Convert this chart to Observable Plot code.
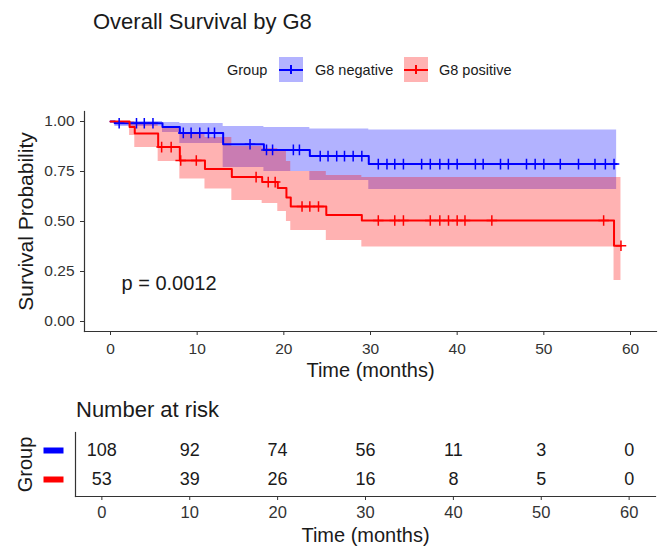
<!DOCTYPE html>
<html>
<head>
<meta charset="utf-8">
<script src="https://cdn.jsdelivr.net/npm/d3@7"></script>
<script src="https://cdn.jsdelivr.net/npm/@observablehq/plot@0.6"></script>
<style>
  body { margin: 0; background: #fff; font-family: "Liberation Sans", Arial, sans-serif; color: #1a1a1a; }
  #page { position: relative; width: 664px; height: 547px; overflow: hidden; background: #fff; }
  .abs { position: absolute; white-space: nowrap; }
  svg { position: absolute; left: 0; }
</style>
</head>
<body>
<div id="page"></div>
<script>
// ---------- data ----------
const titleText = "Overall Survival by G8";
const legendTitle = "Group";
const groups = ["G8 negative", "G8 positive"];
const groupColors = ["#0000ff", "#ff0000"];
const groupFills = ["#b3b3ff", "#ffb3b3"];

// G8 negative: Kaplan-Meier steps
const negTime  = [0, 0.5, 6.0, 8.0, 13.0, 17.7, 23.0, 29.8, 58.4];
const negSurv  = [1.0, 0.991, 0.972, 0.943, 0.886, 0.858, 0.827, 0.787, 0.787];
const negUpper = [1.0, 1.0, 0.995, 0.99, 0.975, 0.97, 0.962, 0.958, 0.958];
const negLower = [1.0, 0.975, 0.945, 0.89, 0.77, 0.75, 0.705, 0.66, 0.66];
const negCensor = [1.0, 3.0, 3.9, 4.9, 8.4, 9.3, 10.3, 11.3, 12.0, 16.1, 18.0, 18.7, 21.1, 21.8,
  24.2, 25.1, 26.1, 27.0, 28.0, 29.0, 30.9, 31.9, 32.8, 33.8, 35.9, 36.9, 38.0, 39.0, 40.0,
  42.1, 43.0, 45.0, 45.9, 48.0, 49.0, 50.0, 51.9, 54.0, 55.9, 57.1, 58.1];

// G8 positive: Kaplan-Meier steps
const posTime  = [0, 2.2, 2.8, 5.5, 8.0, 10.9, 14.0, 17.5, 19.3, 20.3, 20.8, 24.9, 29.0, 58.1, 58.9];
const posSurv  = [1.0, 0.972, 0.94, 0.872, 0.805, 0.763, 0.722, 0.697, 0.668, 0.62, 0.575, 0.533, 0.505, 0.379, 0.379];
const posUpper = [1.0, 1.0, 0.995, 0.975, 0.945, 0.92, 0.875, 0.865, 0.85, 0.80, 0.75, 0.73, 0.72, 0.72, 0.72];
const posLower = [1.0, 0.93, 0.87, 0.80, 0.713, 0.663, 0.605, 0.59, 0.55, 0.50, 0.455, 0.405, 0.372, 0.205, 0.205];
const posCensor = [5.9, 7.0, 8.1, 9.9, 16.8, 18.2, 19.0, 22.1, 23.0, 24.0, 30.9, 32.8, 33.8, 36.9,
  38.0, 39.0, 40.0, 40.9, 44.0, 56.9, 58.9];

const pValueText = "p = 0.0012";
const xTitle = "Time (months)";
const yTitle = "Survival Probability";
const xTicks = [0, 10, 20, 30, 40, 50, 60];
const yTicks = [0, 0.25, 0.5, 0.75, 1.0];
const xDomain = [-3, 63];
const yDomain = [-0.05, 1.05];

// Number at risk
const riskTitle = "Number at risk";
const riskTimes = [0, 10, 20, 30, 40, 50, 60];
const riskNeg = [108, 92, 74, 56, 11, 3, 0];
const riskPos = [53, 39, 26, 16, 8, 5, 0];

// ---------- build tables ----------
const series = [
  {group: groups[0], time: negTime, surv: negSurv, upper: negUpper, lower: negLower, censor: negCensor},
  {group: groups[1], time: posTime, surv: posSurv, upper: posUpper, lower: posLower, censor: posCensor}
];
const survRows = [];
const censorRows = [];
for (const s of series) {
  s.time.forEach((t, i) => survRows.push({group: s.group, time: t, surv: s.surv[i], upper: s.upper[i], lower: s.lower[i]}));
  for (const c of s.censor) {
    let v = s.surv[0];
    for (let i = 0; i < s.time.length; i++) if (s.time[i] <= c) v = s.surv[i];
    censorRows.push({group: s.group, time: c, surv: v});
  }
}
const riskRows = [];
riskTimes.forEach((t, i) => {
  riskRows.push({group: groups[0], time: t, n: riskNeg[i]});
  riskRows.push({group: groups[1], time: t, n: riskPos[i]});
});

const font = "'Liberation Sans', Arial, sans-serif";
const ink = "#1a1a1a";
const axisInk = "#333333";

// ---------- main plot ----------
const main = Plot.plot({
  width: 664, height: 301,
  marginTop: 21, marginBottom: 60, marginLeft: 84, marginRight: 8,
  style: {background: "transparent", fontFamily: font, color: ink, overflow: "visible"},
  x: {domain: xDomain},
  y: {domain: yDomain},
  color: {domain: groups, range: groupColors},
  marks: [
    Plot.areaY(survRows, {x: "time", y1: "lower", y2: "upper", z: "group", fill: "group", fillOpacity: 0.3, curve: "step-after"}),
    Plot.line(survRows, {x: "time", y: "surv", z: "group", stroke: "group", strokeWidth: 2, curve: "step-after"}),
    Plot.dot(censorRows, {x: "time", y: "surv", stroke: "group", symbol: "plus", r: 3.5, strokeWidth: 1.5}),
    Plot.frame({anchor: "left", stroke: axisInk, strokeWidth: 1.2}),
    Plot.frame({anchor: "bottom", stroke: axisInk, strokeWidth: 1.2}),
    Plot.axisX({ticks: xTicks, tickSize: 4, tickPadding: 7, fontSize: 15.5, label: null, color: axisInk}),
    Plot.axisY({ticks: yTicks, tickFormat: d3.format(".2f"), tickSize: 4, tickPadding: 6, fontSize: 15.5, label: null, color: axisInk}),
    Plot.text([xTitle], {text: d => d, frameAnchor: "bottom", lineAnchor: "middle", dy: 39, fontSize: 20, fill: ink}),
    Plot.text([yTitle], {text: d => d, frameAnchor: "left", textAnchor: "middle", lineAnchor: "middle", dx: -58, rotate: -90, fontSize: 21, fill: ink}),
    Plot.text([pValueText], {text: d => d, frameAnchor: "bottom-left", lineAnchor: "middle", dx: 37, dy: -48, textAnchor: "start", fontSize: 20, fill: ink})
  ]
});
main.style.top = "90px";

// ---------- risk table ----------
const barSymbol = {draw(ctx) { ctx.rect(-10, -3, 20, 6); }};
const table = Plot.plot({
  width: 664, height: 157,
  marginTop: 42, marginBottom: 51, marginLeft: 75, marginRight: 9,
  style: {background: "transparent", fontFamily: font, color: ink, overflow: "visible"},
  x: {domain: xDomain},
  y: {type: "point", domain: groups, padding: 0.6, axis: null},
  color: {domain: groups, range: groupColors},
  marks: [
    Plot.text(riskRows, {x: "time", y: "group", text: "n", fontSize: 18, fill: ink}),
    Plot.dot(groups, {y: d => d, frameAnchor: "left", dx: -22, symbol: barSymbol, fill: d => d, stroke: null}),
    Plot.frame({anchor: "left", stroke: axisInk, strokeWidth: 1.2}),
    Plot.frame({anchor: "bottom", stroke: axisInk, strokeWidth: 1.2}),
    Plot.axisX({ticks: xTicks, tickSize: 4, tickPadding: 6, fontSize: 16.5, label: null, color: axisInk}),
    Plot.text([xTitle], {text: d => d, frameAnchor: "bottom", lineAnchor: "middle", dy: 39, fontSize: 20, fill: ink}),
    Plot.text([legendTitle], {text: d => d, frameAnchor: "left", textAnchor: "middle", lineAnchor: "middle", dx: -50, rotate: -90, fontSize: 20, fill: ink})
  ]
});
table.style.top = "390px";

const page = document.getElementById("page");
page.appendChild(main);
page.appendChild(table);

// ---------- title, legend, table title (HTML) ----------
function addText(txt, left, top, size) {
  const d = document.createElement("div");
  d.className = "abs";
  d.textContent = txt;
  d.style.left = left + "px";
  d.style.top = top + "px";
  d.style.fontSize = size + "px";
  d.style.lineHeight = size + "px";
  page.appendChild(d);
  return d;
}
addText(titleText, 93, 11, 22);
addText(riskTitle, 76, 399, 22);

const legendLeft = [227, 279, 315, 404, 439];
addText(legendTitle, legendLeft[0], 63, 14.5);
groups.forEach((g, i) => {
  const box = document.createElement("div");
  box.className = "abs";
  Object.assign(box.style, {left: legendLeft[1 + 2 * i] + "px", top: "57px", width: "24px", height: "25px", background: groupFills[i]});
  const h = document.createElement("div");
  Object.assign(h.style, {position: "absolute", left: "0px", top: "11.5px", width: "24px", height: "2px", background: groupColors[i]});
  const v = document.createElement("div");
  Object.assign(v.style, {position: "absolute", left: "11px", top: "8px", width: "2px", height: "9px", background: groupColors[i]});
  box.appendChild(h); box.appendChild(v);
  page.appendChild(box);
  addText(g, legendLeft[2 + 2 * i], 63, 14.5);
});
</script>
</body>
</html>
